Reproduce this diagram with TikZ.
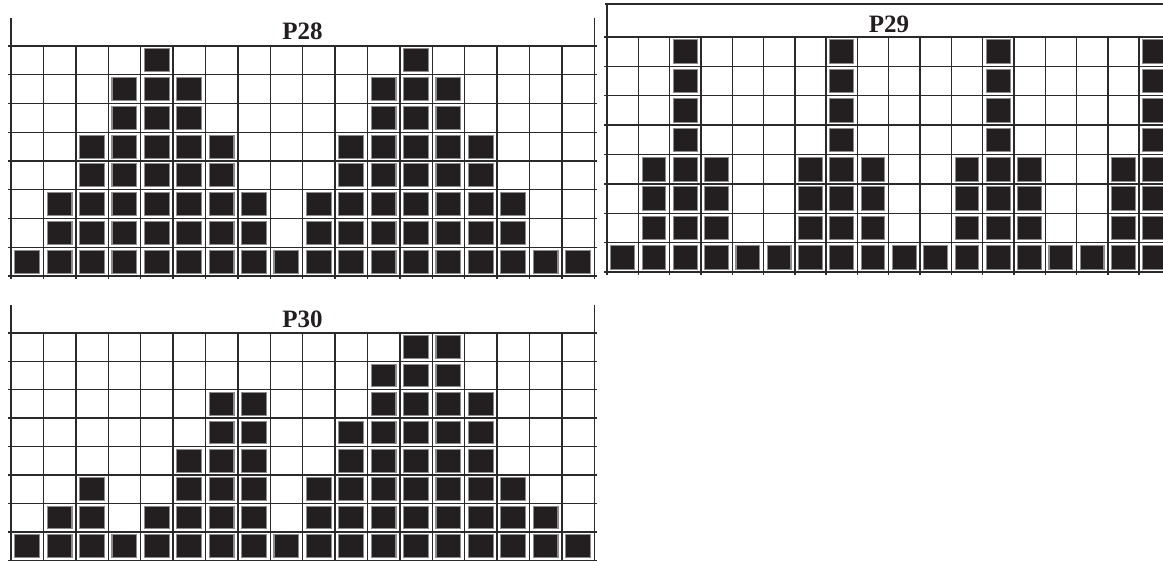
\documentclass[tikz,border=0pt]{standalone}
\usepackage{fontspec}
\setmainfont{Liberation Serif}
\definecolor{ink}{HTML}{231F20}
\definecolor{gridc}{HTML}{2A2A2A}
\definecolor{halo}{HTML}{8C8C8C}
\tikzset{
  gridline/.style={draw=gridc,line width=1.4pt},
  cellfill/.style={fill=ink,draw=halo,line width=1.1pt},
  paneltitle/.style={font=\bfseries\fontsize{25}{25}\selectfont,inner sep=0pt,anchor=base,text=ink}
}
% #1 x0, #2 top of outer verticals, #3 grid top, #4 cell w, #5 cell h, #6 rows/cols list
\newcommand\drawpanelgrid[6]{%
  \draw[gridline] (#1,#2) -- (#1,{#3+8*#5+3});
  \draw[gridline] ({#1+18*#4},#2) -- ({#1+18*#4},{#3+8*#5+3});
  \foreach \i in {1,...,17} \draw[gridline] ({#1+\i*#4},#3) -- ({#1+\i*#4},{#3+8*#5+3});
  \foreach \j in {0,...,8} \draw[gridline] ({#1-3},{#3+\j*#5}) -- ({#1+18*#4+3},{#3+\j*#5});
  \foreach \r/\cols in {#6} {
    \foreach \c in \cols {
      \filldraw[cellfill] ({#1+(\c-1)*#4+3.8},{#3+(\r-1)*#5+2.9}) rectangle ({#1+\c*#4-3.8},{#3+\r*#5-2.9});
    }
  }
}
\begin{document}
\begin{tikzpicture}[x=1pt,y=-1pt]
\useasboundingbox (0,0) rectangle (1163,561);
\begin{scope}
\clip (0,0) rectangle (1163,561);
% P28
\drawpanelgrid{11}{18}{46}{32.4}{28.75}{1/{5,13},2/{4,5,6,12,13,14},3/{4,5,6,12,13,14},4/{3,4,5,6,7,11,12,13,14,15},5/{3,4,5,6,7,11,12,13,14,15},6/{2,3,4,5,6,7,8,10,11,12,13,14,15,16},7/{2,3,4,5,6,7,8,10,11,12,13,14,15,16},8/{1,2,3,4,5,6,7,8,9,10,11,12,13,14,15,16,17,18}}
\node[paneltitle] (t28) at (302.5,40) {P28};
% P29
\draw[gridline] (605,4) -- (1163,4);
\drawpanelgrid{607}{4}{37}{31.3}{29.4}{1/{3,8,13,18},2/{3,8,13,18},3/{3,8,13,18},4/{3,8,13,18},5/{2,3,4,7,8,9,12,13,14,17,18},6/{2,3,4,7,8,9,12,13,14,17,18},7/{2,3,4,7,8,9,12,13,14,17,18},8/{1,2,3,4,5,6,7,8,9,10,11,12,13,14,15,16,17,18}}
\node[paneltitle] (t29) at (889,33) {P29};
% P30
\drawpanelgrid{11}{305}{333}{32.4}{28.4}{1/{13,14},2/{12,13,14},3/{7,8,12,13,14,15},4/{7,8,11,12,13,14,15},5/{6,7,8,11,12,13,14,15},6/{3,6,7,8,10,11,12,13,14,15,16},7/{2,3,5,6,7,8,10,11,12,13,14,15,16,17},8/{1,2,3,4,5,6,7,8,9,10,11,12,13,14,15,16,17,18}}
\node[paneltitle] (t30) at (302.5,328) {P30};
\end{scope}
\end{tikzpicture}
\end{document}
